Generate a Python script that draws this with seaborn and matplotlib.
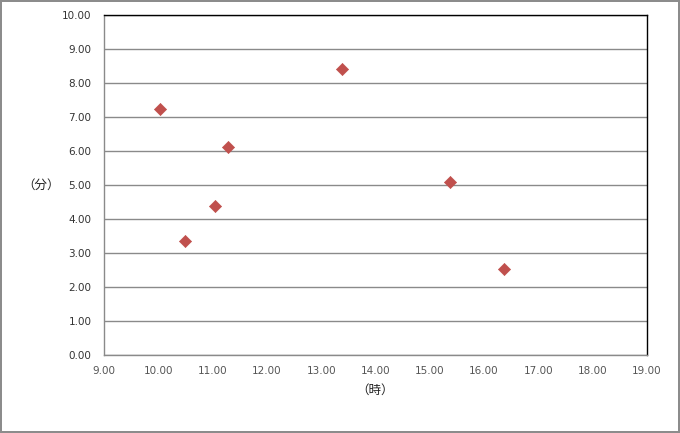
import pandas as pd
import matplotlib.pyplot as plt
import seaborn as sns

# values
hours = [10.04, 10.50, 11.04, 11.28, 13.39, 15.37, 16.37]
minutes = [7.23, 3.34, 4.39, 6.13, 8.40, 5.10, 2.52]
x_ticks = [9, 10, 11, 12, 13, 14, 15, 16, 17, 18, 19]
y_ticks = [0, 1, 2, 3, 4, 5, 6, 7, 8, 9, 10]

data = pd.DataFrame({'hour': hours, 'minute': minutes})

sns.set_style("white")
plt.rcParams['font.family'] = ['DejaVu Sans', 'Noto Sans CJK JP']

fig = plt.figure(figsize=(6.8, 4.33), dpi=100)
fig.patch.set_edgecolor('#8c8c8c')
fig.patch.set_linewidth(1.5)
ax = fig.add_axes([104/680, 1-355/433, (647-104)/680, (355-15)/433])

#gridlines behind the points
for v in y_ticks:
    ax.axhline(v, color='#8a8a8a', linewidth=1.0, zorder=1)

sns.scatterplot(data=data, x='hour', y='minute', marker='D', s=38,
                color='#C0504D', edgecolor='#C0504D', linewidth=0.5, ax=ax, zorder=3)

ax.set_xlim(9, 19)
ax.set_ylim(0, 10)
ax.set_xticks(x_ticks)
ax.set_yticks(y_ticks)
ax.set_xticklabels([f"{v:.2f}" for v in x_ticks], fontsize=7.5, color='#555555')
ax.set_yticklabels([f"{v:.2f}" for v in y_ticks], fontsize=7.5, color='#333333')
ax.tick_params(axis='x', length=0, pad=8)
ax.tick_params(axis='y', length=0, pad=9)
ax.set_xlabel('')
ax.set_ylabel('')

for side in ['top', 'right']:
    ax.spines[side].set_color('black')
    ax.spines[side].set_linewidth(1.0)
for side in ['left', 'bottom']:
    ax.spines[side].set_color('#8a8a8a')
    ax.spines[side].set_linewidth(1.0)

jp = ['Noto Sans CJK JP', 'DejaVu Sans']
fig.text(375/680, 1-390/433, '（時）', ha='center', va='center', fontsize=9, color='#222222', family=jp)
fig.text(41/680, 1-185/433, '（分）', ha='center', va='center', fontsize=9, color='#222222', family=jp)

plt.savefig('out.png', dpi=100)
